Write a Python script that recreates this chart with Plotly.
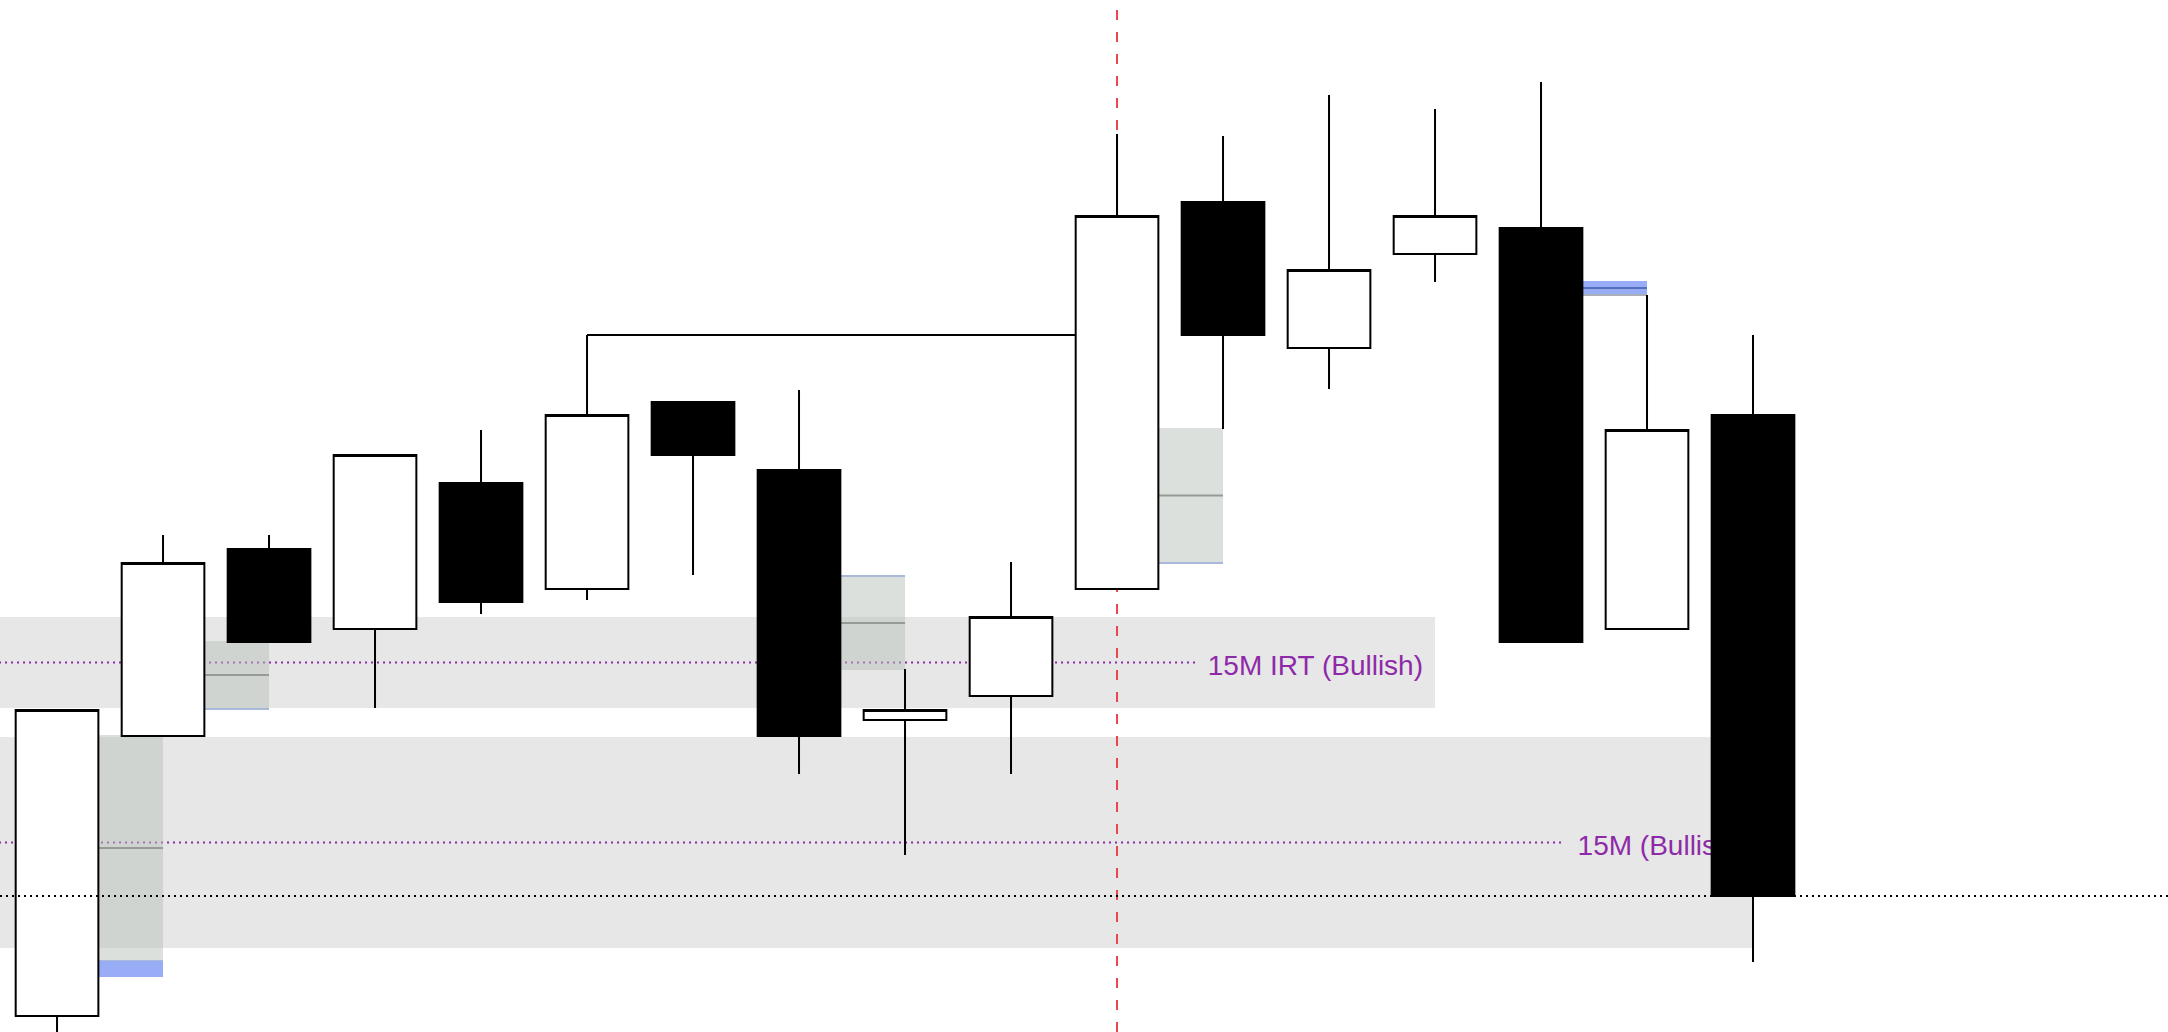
"""
Candlestick replay chart with 15M IRT zones, FVG boxes and the live-price line.
"""

import plotly.graph_objects as go

# Candles, oldest first (price scale is arbitrary; only the shape matters).
candle_idx = list(range(17))
opens = [5046.0, 5116.0, 5162.75, 5142.75, 5179.25, 5152.75, 5199.5, 5182.5, 5120.0,
         5126.0, 5152.75, 5249.5, 5213.0, 5236.5, 5243.0, 5142.75, 5196.25]
highs = [5122.5, 5166.25, 5166.25, 5186.25, 5192.5, 5216.25, 5199.5, 5202.5, 5132.75,
         5159.5, 5266.5, 5266.0, 5276.25, 5272.75, 5279.5, 5226.25, 5216.25]
lows = [5037.5, 5116.0, 5139.5, 5123.0, 5146.5, 5150.0, 5156.25, 5106.5, 5086.25,
        5106.5, 5152.75, 5192.75, 5202.75, 5229.5, 5139.5, 5142.75, 5059.5]
closes = [5122.5, 5159.25, 5139.5, 5186.25, 5149.5, 5196.25, 5186.25, 5116.0, 5122.5,
          5145.75, 5246.0, 5216.25, 5232.5, 5246.0, 5139.5, 5192.5, 5076.0]

# Swing high taken out by the displacement candle
swing_from, swing_to, swing_price = 5, 10, 5216.25

# 15M IRT zones: (label, bottom, top, last candle)
zone_labels = ["15M IRT (Bullish)", "15M (Bullish)"]
zone_bottoms = [5123.0, 5063.0]
zone_tops = [5145.75, 5115.75]
zone_ends = [13, 16]

# Fair value gaps: box ends at the centre of fvg_candle
fvg_candle = [1, 2, 8, 11]
fvg_bottom = [5059.75, 5122.75, 5132.5, 5159.25]
fvg_top = [5116.25, 5139.75, 5156.0, 5193.0]
fvg_edge = ["bottom", "bottom", "top", "bottom"]

# Filled (mitigated) slivers
filled_candle = [1, 15]
filled_bottom = [5055.75, 5226.25]
filled_top = [5059.75, 5229.75]

session_candle = 10
last_price = closes[-1]

Y_RANGE = [5042, 5300]
HALF_BODY = 0.39  # half body width in candle units (boxgap 0.22)
PURPLE = "#8E2AA8"

shapes = []

# Grey zone bands with right-aligned labels (below the candles)
for label, lo, hi, end in zip(zone_labels, zone_bottoms, zone_tops, zone_ends):
    shapes.append(dict(
        type="rect", layer="below", xref="x", yref="y",
        x0=-1, x1=end, y0=lo, y1=hi,
        fillcolor="#E7E7E7", line=dict(width=0),
        label=dict(text=label, textposition="middle right", padding=9,
                   font=dict(family="Liberation Sans, Arial", size=28, color=PURPLE)),
    ))

# Dotted midlines, stopping short of the label
for lo, hi, stop in zip(zone_bottoms, zone_tops, [10.75, 14.2]):
    mid = (lo + hi) / 2
    shapes.append(dict(
        type="line", layer="below", xref="x", yref="y",
        x0=-1, x1=stop, y0=mid, y1=mid,
        line=dict(color=PURPLE, width=2, dash="2px,4px"),
    ))

# Session divider (axis refs so it sits above the zone bands)
shapes.append(dict(
    type="line", layer="below", xref="x", yref="y",
    x0=session_candle, x1=session_candle, y0=Y_RANGE[0], y1=Y_RANGE[1],
    line=dict(color="#E5484D", width=2, dash="10px,12px"),
))

# FVG boxes with consequent-encroachment line and blue edge
for c, lo, hi, edge in zip(fvg_candle, fvg_bottom, fvg_top, fvg_edge):
    x0, x1 = c - 1 + HALF_BODY, c
    shapes.append(dict(
        type="rect", layer="below", xref="x", yref="y",
        x0=x0, x1=x1, y0=lo, y1=hi,
        fillcolor="rgba(185,193,185,0.5)", line=dict(width=0),
    ))
    mid = (lo + hi) / 2
    shapes.append(dict(
        type="line", layer="below", xref="x", yref="y",
        x0=x0, x1=x1, y0=mid, y1=mid,
        line=dict(color="#969B96", width=2),
    ))
    ey = lo if edge == "bottom" else hi
    shapes.append(dict(
        type="line", layer="below", xref="x", yref="y",
        x0=x0, x1=x1, y0=ey, y1=ey,
        line=dict(color="#AAB9D7", width=2),
    ))

for i, (c, lo, hi) in enumerate(zip(filled_candle, filled_bottom, filled_top)):
    x0, x1 = c - 1 + HALF_BODY, c
    shapes.append(dict(
        type="rect", layer="below", xref="x", yref="y",
        x0=x0, x1=x1, y0=lo, y1=hi,
        fillcolor="#98ADF5", line=dict(width=0),
    ))
    if i == 1:
        mid = (lo + hi) / 2
        shapes.append(dict(
            type="line", layer="below", xref="x", yref="y",
            x0=x0, x1=x1, y0=mid, y1=mid,
            line=dict(color="#566EBE", width=2),
        ))
        shapes.append(dict(
            type="line", layer="below", xref="x", yref="y",
            x0=x0, x1=x1, y0=lo, y1=lo,
            line=dict(color="#AAAFB9", width=2),
        ))

# Live price line, drawn over the candles
shapes.append(dict(
    type="line", layer="above", xref="paper", yref="y",
    x0=0, x1=1, y0=last_price, y1=last_price,
    line=dict(color="black", width=2, dash="2px,4px"),
))

fig = go.Figure()
fig.add_trace(go.Candlestick(
    x=candle_idx, open=opens, high=highs, low=lows, close=closes,
    increasing=dict(fillcolor="white", line=dict(color="black", width=2)),
    decreasing=dict(fillcolor="black", line=dict(color="black", width=2)),
    whiskerwidth=0, hoverinfo="skip", showlegend=False,
))
fig.add_trace(go.Scatter(
    x=[swing_from, swing_to - HALF_BODY], y=[swing_price, swing_price],
    mode="lines", line=dict(color="black", width=2),
    hoverinfo="skip", showlegend=False,
))

fig.update_layout(
    width=2168, height=1032,
    margin=dict(l=0, r=0, t=0, b=0),
    paper_bgcolor="white", plot_bgcolor="white",
    boxgap=0.22, boxgroupgap=0,
    shapes=shapes,
    xaxis=dict(visible=False, range=[-0.538, 19.915], rangeslider=dict(visible=False)),
    yaxis=dict(visible=False, range=Y_RANGE),
)
# Drop the page's default body margin so the chart fills the window edge to edge.
fig.write_html(
    "out.html",
    config={"displayModeBar": False},
    post_script="document.body.style.margin='0';document.body.style.overflow='hidden';",
)
